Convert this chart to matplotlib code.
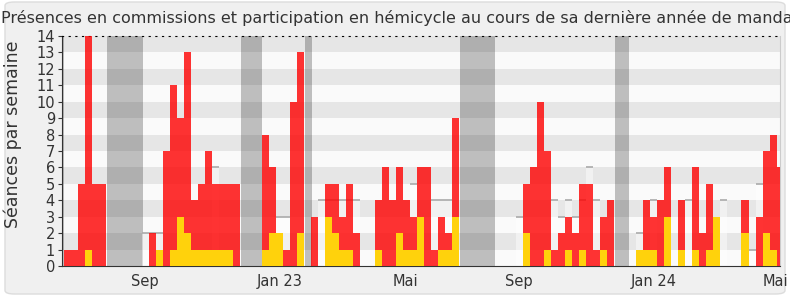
import numpy as np
import matplotlib
matplotlib.use('Agg')
import matplotlib.pyplot as plt
from matplotlib.patches import FancyBboxPatch

# weekly values, one per week, first week = index 0
red = [1, 1, 5, 14, 5, 5, 0, 0, 0, 0,
       0, 0, 2, 1, 7, 11, 9, 13, 4, 5,
       7, 5, 5, 5, 5, 0, 0, 0, 8, 6,
       2, 1, 10, 13, 0, 3, 0, 5, 5, 3,
       5, 2, 0, 0, 4, 6, 4, 6, 4, 3,
       6, 6, 1, 3, 2, 9, 0, 0, 0, 0,
       0, 0, 0, 0, 0, 5, 6, 10, 7, 1,
       2, 3, 2, 5, 5, 1, 3, 4, 0, 0,
       0, 1, 4, 3, 4, 6, 0, 4, 0, 6,
       2, 5, 3, 0, 0, 0, 4, 0, 3, 7,
       8, 6]
yellow = [0, 0, 0, 1, 0, 0, 0, 0, 0, 0,
          0, 0, 0, 1, 0, 1, 3, 2, 1, 1,
          1, 1, 1, 1, 0, 0, 0, 0, 1, 2,
          2, 0, 0, 2, 0, 0, 0, 3, 2, 1,
          1, 0, 0, 0, 1, 0, 0, 2, 1, 1,
          3, 0, 0, 1, 1, 3, 0, 0, 0, 0,
          0, 0, 0, 0, 0, 2, 0, 0, 1, 0,
          0, 1, 0, 1, 0, 0, 1, 0, 0, 0,
          0, 1, 1, 1, 0, 3, 0, 1, 0, 1,
          0, 1, 3, 0, 0, 0, 2, 0, 0, 2,
          1, 0]
median = [0, 0, 0, 0, 0, 0, 0, 0, 0, 0,
          0, 2, 2, 2, 0, 0, 0, 0, 0, 0,
          0, 6, 0, 0, 0, 0, 0, 0, 0, 0,
          3, 3, 0, 0, 0, 0, 4, 4, 4, 4,
          4, 4, 0, 0, 0, 0, 0, 0, 0, 5,
          0, 0, 4, 4, 4, 0, 0, 0, 0, 0,
          0, 0, 0, 0, 3, 0, 0, 0, 0, 4,
          3, 4, 3, 4, 6, 4, 0, 0, 0, 0,
          0, 2, 0, 4, 0, 0, 0, 0, 4, 0,
          0, 0, 0, 4, 0, 0, 0, 1, 5, 0,
          0, 0]

# vacations (in week units)
vac_start = [-0.78, 5.59, 24.54, 33.61, 55.57, 77.54]
vac_end = [-0.5, 10.69, 27.56, 34.64, 60.53, 79.56]

tick_pos = [10.9, 30.0, 47.9, 64.0, 83.0, 100.3]
tick_labels = ['Sep', 'Jan 23', 'Mai', 'Sep', 'Jan 24', 'Mai']

weeks = np.arange(len(red))
median = np.array(median)

fig = plt.figure(figsize=(7.9, 3.0), dpi=100)
fig.patch.set_facecolor('white')
frame = FancyBboxPatch((5 / 790, 6 / 300), 780 / 790, 292 / 300,
                       boxstyle='round,pad=0,rounding_size=0.012',
                       transform=fig.transFigure, facecolor='#f0f0f0',
                       edgecolor='#dcdcdc', linewidth=1, zorder=-10)
fig.patches.append(frame)

ax = fig.add_axes([62 / 790, 34 / 300, 718.3 / 790, 230 / 300])
ax.set_facecolor('#fafafa')

for y in range(14):
    if y % 2 == 1:
        ax.axhspan(y, y + 1, color='#e6e6e6', lw=0, zorder=0)

for s, e in zip(vac_start, vac_end):
    ax.axvspan(s, e, color='black', alpha=0.24, lw=0, zorder=1)

ax.bar(weeks, median, width=1.0, color='white', alpha=0.45, lw=0, zorder=2)
m = median > 0
ax.hlines(median[m], weeks[m] - 0.5, weeks[m] + 0.5, color='#aaaaaa', lw=1.2, zorder=2)

ax.bar(weeks, red, width=1.0, color=(1, 0, 0, 0.8), lw=0, zorder=3)
ax.bar(weeks, yellow, width=1.0, color='#ffd20c', lw=0, zorder=4)

ax.set_xlim(-0.78, 101.0)
ax.set_ylim(0, 14)
ax.set_yticks(range(15))
ax.set_xticks(tick_pos)
ax.set_xticklabels(tick_labels)
ax.tick_params(axis='both', labelsize=10.5, colors='#333333', length=3)
ax.tick_params(axis='x', length=0, pad=6)
ax.tick_params(axis='y', pad=2)

ax.spines['left'].set_color('#333333')
ax.spines['bottom'].set_color('#333333')
ax.spines['top'].set_linestyle((0, (1, 5)))
ax.spines['top'].set_color('black')
ax.spines['right'].set_color('#cccccc')

ax.set_ylabel('Séances par semaine', fontsize=12.5, color='#333333')
ax.yaxis.set_label_coords(-0.0557, 0.574)
fig.text(0.506, 0.94, 'Présences en commissions et participation en hémicycle au cours de sa dernière année de mandat',
         ha='center', va='center', fontsize=11.55, color='#333333')

fig.savefig('out.png', dpi=100, facecolor=fig.get_facecolor())
